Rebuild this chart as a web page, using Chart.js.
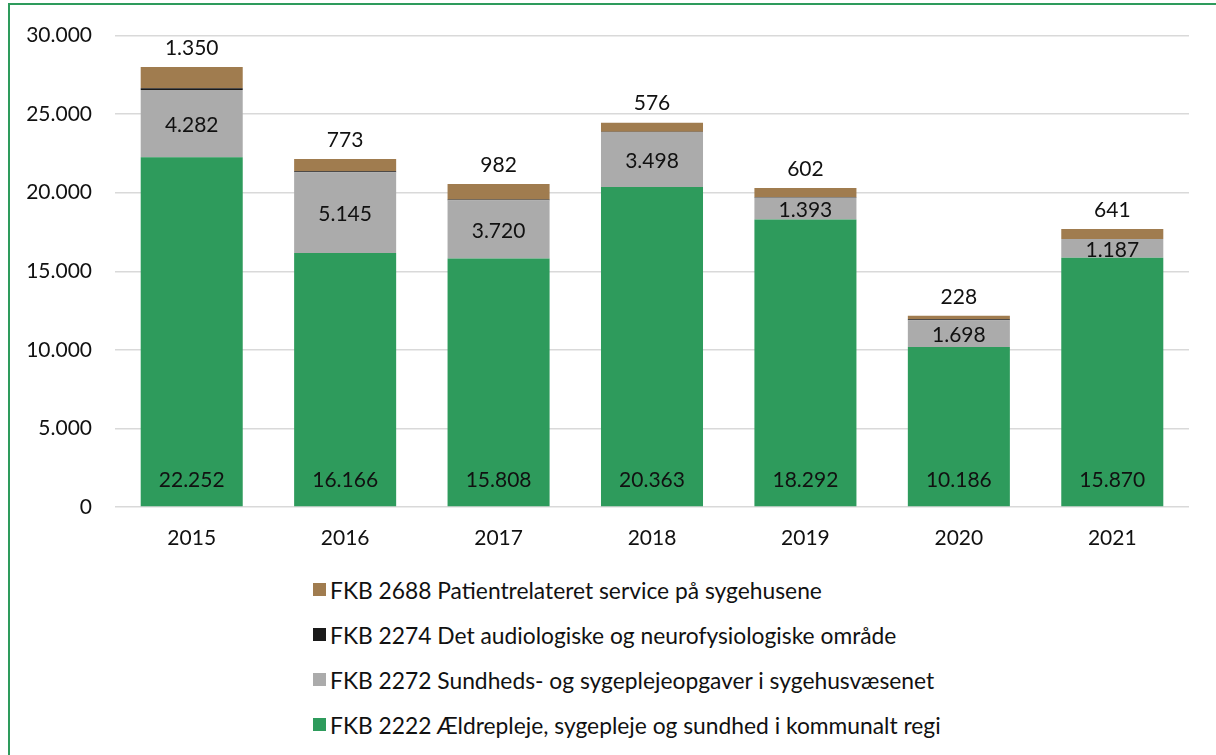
<!DOCTYPE html>
<html>
<head>
<meta charset="utf-8">
<script src="https://cdn.jsdelivr.net/npm/chart.js@4/dist/chart.umd.min.js"></script>
<style>
  html, body { margin: 0; padding: 0; background: #fff; }
  body { width: 1216px; height: 755px; position: relative; overflow: hidden; font-family: Lato, "Open Sans", sans-serif; }
  #frame { position: absolute; left: 8px; top: 3px; width: 1300px; height: 900px; border: 2.5px solid #2E9B5C; box-sizing: border-box; }
  #wrap { position: absolute; left: 0; top: 0; width: 1216px; height: 560px; }
  #legend { position: absolute; left: 313px; top: 567px; color: #111; font-size: 22.8px; }
  .item { height: 45px; display: flex; align-items: center; white-space: nowrap; }
  .sw { width: 13px; height: 13px; margin-right: 4px; flex: none; }
</style>
</head>
<body>
<div id="frame"></div>
<div id="wrap"><canvas id="c"></canvas></div>
<div id="legend"></div>
<script>
const categories = ["2015", "2016", "2017", "2018", "2019", "2020", "2021"];
const fkb2222 = [22252, 16166, 15808, 20363, 18292, 10186, 15870];
const fkb2272 = [4282, 5145, 3720, 3498, 1393, 1698, 1187];
const fkb2274 = [120, 60, 40, 20, 20, 60, 0];
const fkb2688 = [1350, 773, 982, 576, 602, 228, 641];
const seriesNames = [
  "FKB 2222 Ældrepleje, sygepleje og sundhed i kommunalt regi",
  "FKB 2272 Sundheds- og sygeplejeopgaver i sygehusvæsenet",
  "FKB 2274 Det audiologiske og neurofysiologiske område",
  "FKB 2688 Patientrelateret service på sygehusene"
];
const yTicks = [0, 5000, 10000, 15000, 20000, 25000, 30000];

const colors = ["#2E9B5C", "#ABABAB", "#1A1A1A", "#A07C4F"];

function fmt(v) {
  return String(Math.round(v)).replace(/\B(?=(\d{3})+(?!\d))/g, ".");
}

const labelPlugin = {
  id: 'valueLabels',
  afterDatasetsDraw(chart) {
    const ctx = chart.ctx;
    ctx.save();
    ctx.font = '21px Lato, "Open Sans", sans-serif';
    ctx.fillStyle = '#111';
    ctx.textAlign = 'center';
    ctx.textBaseline = 'middle';
    chart.data.datasets.forEach((ds, di) => {
      const meta = chart.getDatasetMeta(di);
      meta.data.forEach((bar, i) => {
        const v = ds.data[i];
        if (di === 0) ctx.fillText(fmt(v), bar.x, bar.base - 26);
        else if (di === 1) ctx.fillText(fmt(v), bar.x, (bar.y + bar.base) / 2 + 2);
        else if (di === 3) ctx.fillText(fmt(v), bar.x, bar.y - 19);
      });
    });
    ctx.restore();
  }
};

const data = {
  labels: categories,
  datasets: [fkb2222, fkb2272, fkb2274, fkb2688].map((arr, i) => ({
    label: seriesNames[i],
    data: arr,
    backgroundColor: colors[i],
    borderWidth: 0,
    categoryPercentage: 1.0,
    barPercentage: 0.665
  }))
};

new Chart(document.getElementById('c'), {
  type: 'bar',
  data,
  plugins: [labelPlugin],
  options: {
    responsive: true,
    maintainAspectRatio: false,
    animation: false,
    layout: { padding: { top: 34, right: 27, bottom: 3, left: 0 } },
    plugins: { legend: { display: false }, tooltip: { enabled: false } },
    scales: {
      x: {
        stacked: true,
        grid: { display: false, drawTicks: false },
        border: { display: false },
        ticks: { color: '#111', font: { family: 'Lato', size: 21 }, padding: 19 },
        afterFit(s) { s.height = 50; }
      },
      y: {
        stacked: true,
        min: 0, max: 30000,
        afterBuildTicks(s) { s.ticks = yTicks.map(v => ({ value: v })); },
        grid: { color: '#D9D9D9', lineWidth: 1.5, drawTicks: false },
        border: { display: false },
        ticks: { color: '#111', font: { family: 'Lato', size: 21 }, padding: 23, callback: v => fmt(v) },
        afterFit(s) { s.width = 115; }
      }
    }
  }
});

const leg = document.getElementById('legend');
[3, 2, 1, 0].forEach(i => {
  const d = document.createElement('div');
  d.className = 'item';
  const sw = document.createElement('span');
  sw.className = 'sw';
  sw.style.background = colors[i];
  const t = document.createElement('span');
  t.textContent = seriesNames[i];
  d.appendChild(sw); d.appendChild(t);
  leg.appendChild(d);
});
</script>
</body>
</html>
